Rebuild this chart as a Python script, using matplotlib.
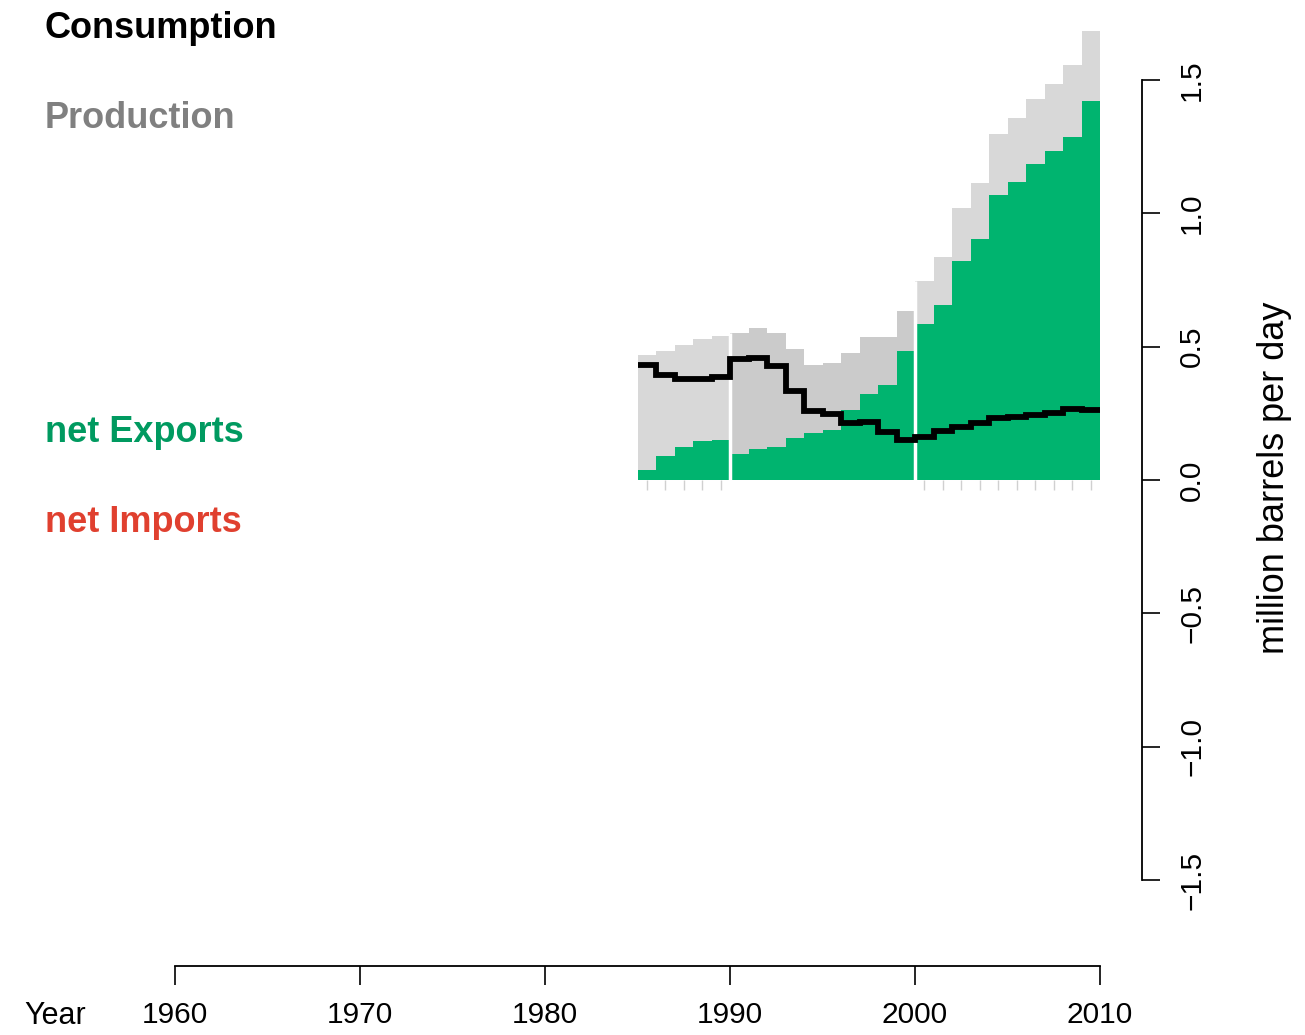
import matplotlib
matplotlib.use("Agg")
import matplotlib.pyplot as plt
import numpy as np

plt.rcParams["font.family"] = ["Liberation Sans", "DejaVu Sans"]

# Data (million barrels per day)
years = np.arange(1985, 2010)
production = [0.468, 0.484, 0.505, 0.527, 0.539,
              0.552, 0.571, 0.551, 0.493, 0.433,
              0.438, 0.475, 0.538, 0.538, 0.632,
              0.746, 0.838, 1.019, 1.114, 1.298,
              1.357, 1.428, 1.485, 1.556, 1.683]
consumption = [0.430, 0.393, 0.380, 0.380, 0.388,
               0.453, 0.456, 0.428, 0.334, 0.257,
               0.249, 0.213, 0.216, 0.181, 0.150,
               0.160, 0.182, 0.197, 0.212, 0.231,
               0.238, 0.243, 0.250, 0.268, 0.263]

x_ticks = [1960, 1970, 1980, 1990, 2000, 2010]
y_ticks = [-1.5, -1.0, -0.5, 0.0, 0.5, 1.0, 1.5]

green = "#00b46f"
green_text = "#009a60"
red_text = "#e0402f"

production = np.array(production)
consumption = np.array(consumption)
net = production - consumption

W, H = 1305, 1035
fig = plt.figure(figsize=(W / 100, H / 100), dpi=100)

# axes placed so that 1960..2010 -> px 175..1100 and -1.5..1.5 -> px 880..80
y_per_px = 3.0 / 800
top_val = 1.7
top_px = 80 - (top_val - 1.5) / y_per_px
ax = fig.add_axes([175 / W, (H - 880) / H, 925 / W, (880 - top_px) / H])
ax.set_xlim(1960, 2010)
ax.set_ylim(-1.5, top_val)

# decade shading of production bars
odd_decade = (years // 10) % 2 == 1
prod_colors = np.where(odd_decade, "#cbcbcb", "#d8d8d8")

ax.bar(years, production, width=1, align="edge", color=prod_colors, linewidth=0)
ax.bar(years, np.clip(net, 0, None), width=1, align="edge", color=green, linewidth=0)
ax.bar(years, np.clip(net, None, 0), width=1, align="edge", color=red_text, linewidth=0)

# white separators at decade starts
for yr in [1990, 2000]:
    ax.vlines(yr, 0, production[years == yr][0], color="white", lw=2.5, zorder=3)

# little year marks below the bars (even decades only)
marks = years[~odd_decade] + 0.5
ax.vlines(marks, -0.038, 0, color="#d0d0d0", lw=1)

ax.stairs(consumption, np.append(years, years[-1] + 1), baseline=None,
          color="black", lw=4.2, zorder=4)

# axes styling
for s in ["left", "top"]:
    ax.spines[s].set_visible(False)
ax.spines["bottom"].set_position(("outward", 86 * 0.72))
ax.spines["bottom"].set_bounds(1960, 2010)
ax.spines["right"].set_position(("outward", 42 * 0.72))
ax.spines["right"].set_bounds(-1.5, 1.5)
for s in ["bottom", "right"]:
    ax.spines[s].set_linewidth(1.3)

ax.set_xticks(x_ticks)
ax.set_xticklabels([str(t) for t in x_ticks])
ax.set_yticks(y_ticks)
ax.set_yticklabels([f"{t:.1f}".replace("-", "\u2212") for t in y_ticks])
ax.yaxis.tick_right()
ax.tick_params(axis="x", length=13.5, width=1.2, pad=12, labelsize=21.5)
ax.tick_params(axis="y", length=13, width=1.2, pad=13, labelsize=21.5,
               labelrotation=90)
for lab in ax.get_yticklabels():
    lab.set_va("center")

fig.text(1275 / W, 1 - 478 / H, "million barrels per day", rotation=90,
         fontsize=26, ha="center", va="center")
fig.text(55 / W, 1 - 1016 / H, "Year", fontsize=22, ha="center", va="center")

# legend-like labels on the left
fig.text(45 / W, 1 - 29 / H, "Consumption", fontsize=26, fontweight="bold",
         color="black", va="center")
fig.text(45 / W, 1 - 119 / H, "Production", fontsize=26, fontweight="bold",
         color="#808080", va="center")
fig.text(45 / W, 1 - 433 / H, "net Exports", fontsize=26, fontweight="bold",
         color=green_text, va="center")
fig.text(45 / W, 1 - 523 / H, "net Imports", fontsize=26, fontweight="bold",
         color=red_text, va="center")

fig.savefig("out.png", dpi=100)
